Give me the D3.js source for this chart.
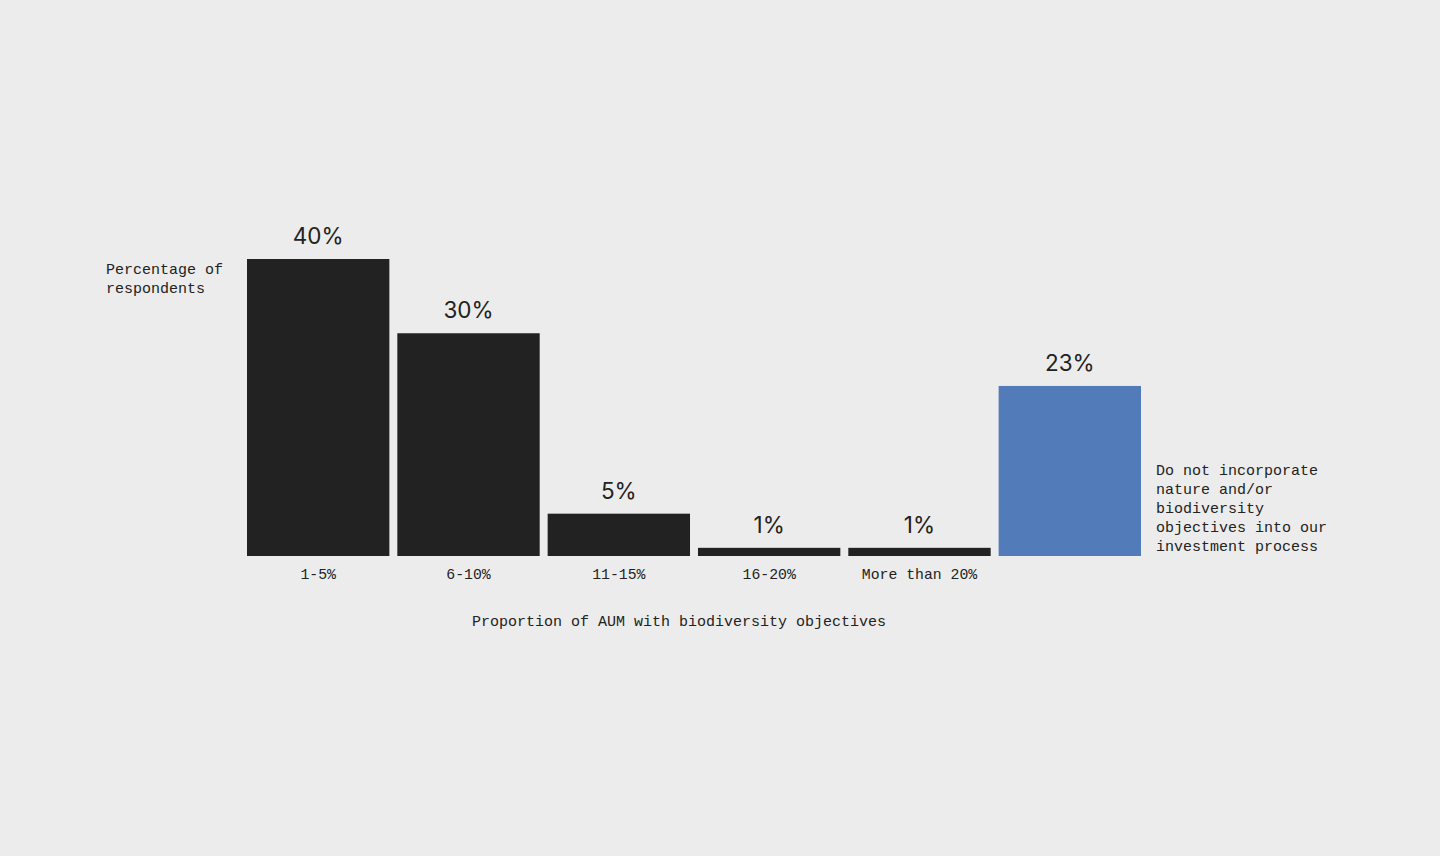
<!DOCTYPE html>
<html>
<head>
<meta charset="utf-8">
<script src="https://cdn.jsdelivr.net/npm/d3@7"></script>
<style>
  html, body { margin: 0; padding: 0; background: #ececec; }
  svg { display: block; }
</style>
</head>
<body>
<svg id="chart" width="1440" height="856"></svg>
<script>
const categories = ["1-5%", "6-10%", "11-15%", "16-20%", "More than 20%", "none"];
const values = [40, 30, 5.7, 1.1, 1.1, 22.9];
const valueLabels = ["40%", "30%", "5%", "1%", "1%", "23%"];
const tickLabels = ["1-5%", "6-10%", "11-15%", "16-20%", "More than 20%", ""];
const barColors = ["#222222", "#222222", "#222222", "#222222", "#222222", "#527bb9"];
const yLabelLines = ["Percentage of", "respondents"];
const noteLines = ["Do not incorporate", "nature and/or", "biodiversity", "objectives into our", "investment process"];
const xTitle = "Proportion of AUM with biodiversity objectives";

const svg = d3.select("#chart");
const mono = "'Liberation Mono', 'DejaVu Sans Mono', monospace";
const sans = "Inter, 'Open Sans', sans-serif";
const ink = "#222222";

const x = d3.scaleBand().domain(categories).range([247, 1141]).paddingInner(0.053).paddingOuter(0);
const y = d3.scaleLinear().domain([0, 40]).range([556, 259]);

svg.append("g").selectAll("rect").data(categories).join("rect")
  .attr("x", d => x(d))
  .attr("width", x.bandwidth())
  .attr("y", (d, i) => y(values[i]))
  .attr("height", (d, i) => y(0) - y(values[i]))
  .attr("fill", (d, i) => barColors[i]);

svg.append("g").selectAll("text").data(categories).join("text")
  .attr("x", d => x(d) + x.bandwidth() / 2)
  .attr("y", (d, i) => y(values[i]) - 15)
  .attr("text-anchor", "middle")
  .attr("font-family", sans)
  .attr("font-size", 22.5)
  .attr("fill", ink)
  .text((d, i) => valueLabels[i]);

const xAxis = d3.axisBottom(x).tickSize(0).tickPadding(0).tickFormat((d, i) => tickLabels[i]);
const gx = svg.append("g").attr("transform", `translate(0,${y(0)})`).call(xAxis);
gx.select(".domain").remove();
gx.selectAll("text")
  .attr("dy", null)
  .attr("y", 23)
  .attr("font-family", mono)
  .attr("font-size", 14.8)
  .attr("fill", ink);

svg.append("text")
  .attr("font-family", mono).attr("font-size", 15).attr("fill", ink)
  .selectAll("tspan").data(yLabelLines).join("tspan")
  .attr("x", 106).attr("y", (d, i) => 274 + i * 19).text(d => d);

svg.append("text")
  .attr("font-family", mono).attr("font-size", 15).attr("fill", ink)
  .selectAll("tspan").data(noteLines).join("tspan")
  .attr("x", 1156).attr("y", (d, i) => 475 + i * 19).text(d => d);

svg.append("text")
  .attr("x", 679).attr("y", 626)
  .attr("text-anchor", "middle")
  .attr("font-family", mono).attr("font-size", 15).attr("fill", ink)
  .text(xTitle);
</script>
</body>
</html>
